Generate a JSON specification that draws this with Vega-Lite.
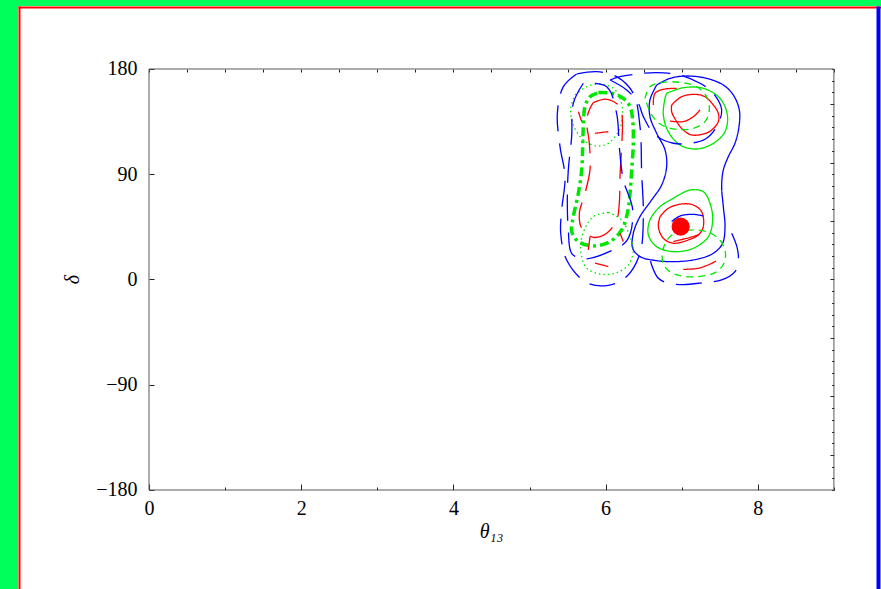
{
  "$schema": "https://vega.github.io/schema/vega-lite/v6.json",
  "width": 863,
  "height": 583,
  "autosize": {"type": "none"},
  "padding": {"left": 18, "top": 6, "right": 0, "bottom": 0},
  "background": "#00ff5a",
  "config": {
    "view": {"fill": "white", "stroke": null},
    "axis": {
      "labelFont": "Liberation Serif",
      "titleFont": "Liberation Serif",
      "labelFontSize": 20,
      "titleFontSize": 20,
      "labelColor": "#000000",
      "titleColor": "#000000",
      "tickColor": "#222222",
      "titleFontWeight": "normal",
      "grid": false,
      "domain": false,
      "labelFlush": false,
      "labelOverlap": false
    }
  },
  "datasets": {
    "series": [
      {"id": "A", "col": "blue", "dash": "solid"},
      {"id": "B", "col": "green", "dash": "solid"},
      {"id": "C", "col": "red", "dash": "solid"},
      {"id": "D", "col": "red", "dash": "solid"},
      {"id": "E", "col": "green", "dash": "solid"},
      {"id": "F", "col": "green", "dash": "shortdash"},
      {"id": "G", "col": "green", "dash": "shortdash"},
      {"id": "H", "col": "green", "dash": "dashdot"},
      {"id": "I", "col": "green", "dash": "dot"},
      {"id": "J", "col": "green", "dash": "dot"},
      {"id": "K", "col": "red", "dash": "longdash"},
      {"id": "L1", "col": "blue", "dash": "longdash"},
      {"id": "L2", "col": "blue", "dash": "longdash"},
      {"id": "M", "col": "blue", "dash": "longdash"},
      {"id": "N", "col": "blue", "dash": "longdash"},
      {"id": "P", "col": "blue", "dash": "solid"},
      {"id": "Q1", "col": "red", "dash": "solid"},
      {"id": "Q2", "col": "red", "dash": "solid"},
      {"id": "Q3", "col": "red", "dash": "solid"},
      {"id": "Q4", "col": "red", "dash": "solid"},
      {"id": "Q5", "col": "red", "dash": "solid"},
      {"id": "Q6", "col": "red", "dash": "solid"},
      {"id": "Q7", "col": "red", "dash": "solid"},
      {"id": "Q8", "col": "red", "dash": "solid"},
      {"id": "Q9", "col": "red", "dash": "solid"}
    ],
    "best": [{"x": 6.986, "y": 45.2}],
    "pts": [
      {"id": "A", "o": 0, "x": 6.671, "y": 166.3},
      {"id": "A", "o": 1, "x": 6.846, "y": 172.0},
      {"id": "A", "o": 2, "x": 7.065, "y": 174.0},
      {"id": "A", "o": 3, "x": 7.328, "y": 172.0},
      {"id": "A", "o": 4, "x": 7.547, "y": 166.3},
      {"id": "A", "o": 5, "x": 7.678, "y": 157.8},
      {"id": "A", "o": 6, "x": 7.757, "y": 145.0},
      {"id": "A", "o": 7, "x": 7.753, "y": 130.7},
      {"id": "A", "o": 8, "x": 7.700, "y": 116.5},
      {"id": "A", "o": 9, "x": 7.613, "y": 105.1},
      {"id": "A", "o": 10, "x": 7.547, "y": 93.7},
      {"id": "A", "o": 11, "x": 7.525, "y": 79.4},
      {"id": "A", "o": 12, "x": 7.547, "y": 62.3},
      {"id": "A", "o": 13, "x": 7.569, "y": 45.2},
      {"id": "A", "o": 14, "x": 7.538, "y": 31.0},
      {"id": "A", "o": 15, "x": 7.416, "y": 22.4},
      {"id": "A", "o": 16, "x": 7.197, "y": 17.3},
      {"id": "A", "o": 17, "x": 6.934, "y": 15.3},
      {"id": "A", "o": 18, "x": 6.671, "y": 16.1},
      {"id": "A", "o": 19, "x": 6.452, "y": 19.6},
      {"id": "A", "o": 20, "x": 6.356, "y": 26.7},
      {"id": "A", "o": 21, "x": 6.364, "y": 39.5},
      {"id": "A", "o": 22, "x": 6.452, "y": 53.8},
      {"id": "A", "o": 23, "x": 6.605, "y": 68.0},
      {"id": "A", "o": 24, "x": 6.737, "y": 80.8},
      {"id": "A", "o": 25, "x": 6.802, "y": 96.5},
      {"id": "A", "o": 26, "x": 6.781, "y": 110.8},
      {"id": "A", "o": 27, "x": 6.671, "y": 125.0},
      {"id": "A", "o": 28, "x": 6.583, "y": 139.3},
      {"id": "A", "o": 29, "x": 6.583, "y": 153.5},
      {"id": "A", "o": 30, "x": 6.671, "y": 166.3},

      {"id": "B", "o": 0, "x": 6.802, "y": 159.2},
      {"id": "B", "o": 1, "x": 7.021, "y": 164.0},
      {"id": "B", "o": 2, "x": 7.284, "y": 163.5},
      {"id": "B", "o": 3, "x": 7.503, "y": 154.9},
      {"id": "B", "o": 4, "x": 7.600, "y": 140.7},
      {"id": "B", "o": 5, "x": 7.569, "y": 126.4},
      {"id": "B", "o": 6, "x": 7.416, "y": 116.4},
      {"id": "B", "o": 7, "x": 7.197, "y": 111.6},
      {"id": "B", "o": 8, "x": 6.978, "y": 115.0},
      {"id": "B", "o": 9, "x": 6.824, "y": 126.4},
      {"id": "B", "o": 10, "x": 6.759, "y": 140.7},
      {"id": "B", "o": 11, "x": 6.781, "y": 154.9},
      {"id": "B", "o": 12, "x": 6.802, "y": 159.2},

      {"id": "C", "o": 0, "x": 6.868, "y": 149.2},
      {"id": "C", "o": 1, "x": 6.999, "y": 156.3},
      {"id": "C", "o": 2, "x": 7.175, "y": 158.3},
      {"id": "C", "o": 3, "x": 7.306, "y": 156.3},
      {"id": "C", "o": 4, "x": 7.416, "y": 149.2},
      {"id": "C", "o": 5, "x": 7.481, "y": 142.1},
      {"id": "C", "o": 6, "x": 7.481, "y": 135.0},
      {"id": "C", "o": 7, "x": 7.394, "y": 127.8},
      {"id": "C", "o": 8, "x": 7.284, "y": 124.4},
      {"id": "C", "o": 9, "x": 7.131, "y": 123.6},
      {"id": "C", "o": 10, "x": 7.021, "y": 127.8},
      {"id": "C", "o": 11, "x": 6.934, "y": 135.0},
      {"id": "C", "o": 12, "x": 6.868, "y": 143.5},
      {"id": "C", "o": 13, "x": 6.868, "y": 149.2},

      {"id": "D", "o": 0, "x": 6.715, "y": 53.7},
      {"id": "D", "o": 1, "x": 6.824, "y": 60.9},
      {"id": "D", "o": 2, "x": 6.999, "y": 64.6},
      {"id": "D", "o": 3, "x": 7.153, "y": 63.7},
      {"id": "D", "o": 4, "x": 7.262, "y": 58.0},
      {"id": "D", "o": 5, "x": 7.284, "y": 45.2},
      {"id": "D", "o": 6, "x": 7.219, "y": 38.1},
      {"id": "D", "o": 7, "x": 7.087, "y": 33.8},
      {"id": "D", "o": 8, "x": 6.890, "y": 31.0},
      {"id": "D", "o": 9, "x": 6.759, "y": 35.2},
      {"id": "D", "o": 10, "x": 6.693, "y": 45.2},
      {"id": "D", "o": 11, "x": 6.715, "y": 53.7},

      {"id": "E", "o": 0, "x": 6.890, "y": 69.4},
      {"id": "E", "o": 1, "x": 7.109, "y": 76.5},
      {"id": "E", "o": 2, "x": 7.284, "y": 75.1},
      {"id": "E", "o": 3, "x": 7.372, "y": 65.1},
      {"id": "E", "o": 4, "x": 7.407, "y": 50.9},
      {"id": "E", "o": 5, "x": 7.350, "y": 36.6},
      {"id": "E", "o": 6, "x": 7.153, "y": 26.7},
      {"id": "E", "o": 7, "x": 6.890, "y": 23.8},
      {"id": "E", "o": 8, "x": 6.671, "y": 28.1},
      {"id": "E", "o": 9, "x": 6.562, "y": 38.1},
      {"id": "E", "o": 10, "x": 6.583, "y": 50.9},
      {"id": "E", "o": 11, "x": 6.715, "y": 62.3},
      {"id": "E", "o": 12, "x": 6.890, "y": 69.4},

      {"id": "F", "o": 0, "x": 6.518, "y": 154.9},
      {"id": "F", "o": 1, "x": 6.583, "y": 164.9},
      {"id": "F", "o": 2, "x": 6.759, "y": 168.6},
      {"id": "F", "o": 3, "x": 6.978, "y": 168.6},
      {"id": "F", "o": 4, "x": 7.197, "y": 164.9},
      {"id": "F", "o": 5, "x": 7.328, "y": 156.3},
      {"id": "F", "o": 6, "x": 7.363, "y": 145.0},
      {"id": "F", "o": 7, "x": 7.306, "y": 135.0},
      {"id": "F", "o": 8, "x": 7.153, "y": 129.3},
      {"id": "F", "o": 9, "x": 6.934, "y": 128.4},
      {"id": "F", "o": 10, "x": 6.737, "y": 132.1},
      {"id": "F", "o": 11, "x": 6.605, "y": 140.7},
      {"id": "F", "o": 12, "x": 6.518, "y": 154.9},

      {"id": "G", "o": 0, "x": 6.912, "y": 40.0},
      {"id": "G", "o": 1, "x": 7.109, "y": 42.3},
      {"id": "G", "o": 2, "x": 7.328, "y": 40.9},
      {"id": "G", "o": 3, "x": 7.481, "y": 35.2},
      {"id": "G", "o": 4, "x": 7.569, "y": 25.2},
      {"id": "G", "o": 5, "x": 7.556, "y": 13.8},
      {"id": "G", "o": 6, "x": 7.438, "y": 5.9},
      {"id": "G", "o": 7, "x": 7.197, "y": 2.4},
      {"id": "G", "o": 8, "x": 6.978, "y": 3.3},
      {"id": "G", "o": 9, "x": 6.824, "y": 7.6},
      {"id": "G", "o": 10, "x": 6.750, "y": 15.3},
      {"id": "G", "o": 11, "x": 6.759, "y": 26.7},
      {"id": "G", "o": 12, "x": 6.824, "y": 35.2},
      {"id": "G", "o": 13, "x": 6.912, "y": 40.0},

      {"id": "H", "o": 0, "x": 5.905, "y": 159.8},
      {"id": "H", "o": 1, "x": 6.080, "y": 159.2},
      {"id": "H", "o": 2, "x": 6.233, "y": 154.9},
      {"id": "H", "o": 3, "x": 6.321, "y": 147.8},
      {"id": "H", "o": 4, "x": 6.356, "y": 136.4},
      {"id": "H", "o": 5, "x": 6.364, "y": 116.4},
      {"id": "H", "o": 6, "x": 6.343, "y": 93.7},
      {"id": "H", "o": 7, "x": 6.321, "y": 73.7},
      {"id": "H", "o": 8, "x": 6.286, "y": 56.6},
      {"id": "H", "o": 9, "x": 6.211, "y": 42.3},
      {"id": "H", "o": 10, "x": 6.058, "y": 32.4},
      {"id": "H", "o": 11, "x": 5.839, "y": 28.7},
      {"id": "H", "o": 12, "x": 5.642, "y": 32.4},
      {"id": "H", "o": 13, "x": 5.554, "y": 40.9},
      {"id": "H", "o": 14, "x": 5.576, "y": 53.7},
      {"id": "H", "o": 15, "x": 5.642, "y": 73.7},
      {"id": "H", "o": 16, "x": 5.686, "y": 93.7},
      {"id": "H", "o": 17, "x": 5.699, "y": 113.6},
      {"id": "H", "o": 18, "x": 5.707, "y": 130.7},
      {"id": "H", "o": 19, "x": 5.729, "y": 147.8},
      {"id": "H", "o": 20, "x": 5.795, "y": 156.3},
      {"id": "H", "o": 21, "x": 5.905, "y": 159.8},

      {"id": "I", "o": 0, "x": 5.598, "y": 157.8},
      {"id": "I", "o": 1, "x": 5.751, "y": 164.9},
      {"id": "I", "o": 2, "x": 5.926, "y": 167.2},
      {"id": "I", "o": 3, "x": 6.101, "y": 163.5},
      {"id": "I", "o": 4, "x": 6.189, "y": 154.9},
      {"id": "I", "o": 5, "x": 6.224, "y": 140.7},
      {"id": "I", "o": 6, "x": 6.167, "y": 126.4},
      {"id": "I", "o": 7, "x": 6.036, "y": 116.4},
      {"id": "I", "o": 8, "x": 5.882, "y": 114.2},
      {"id": "I", "o": 9, "x": 5.707, "y": 119.3},
      {"id": "I", "o": 10, "x": 5.576, "y": 132.1},
      {"id": "I", "o": 11, "x": 5.541, "y": 146.4},
      {"id": "I", "o": 12, "x": 5.598, "y": 157.8},

      {"id": "J", "o": 0, "x": 6.036, "y": 57.4},
      {"id": "J", "o": 1, "x": 6.211, "y": 50.9},
      {"id": "J", "o": 2, "x": 6.320, "y": 36.6},
      {"id": "J", "o": 3, "x": 6.364, "y": 25.2},
      {"id": "J", "o": 4, "x": 6.298, "y": 12.4},
      {"id": "J", "o": 5, "x": 6.123, "y": 5.3},
      {"id": "J", "o": 6, "x": 5.926, "y": 4.7},
      {"id": "J", "o": 7, "x": 5.751, "y": 9.6},
      {"id": "J", "o": 8, "x": 5.685, "y": 19.5},
      {"id": "J", "o": 9, "x": 5.672, "y": 30.9},
      {"id": "J", "o": 10, "x": 5.729, "y": 43.7},
      {"id": "J", "o": 11, "x": 5.838, "y": 53.7},
      {"id": "J", "o": 12, "x": 6.036, "y": 57.4},

      {"id": "K", "o": 0, "x": 5.839, "y": 151.2},
      {"id": "K", "o": 1, "x": 6.014, "y": 154.1},
      {"id": "K", "o": 2, "x": 6.189, "y": 147.8},
      {"id": "K", "o": 3, "x": 6.220, "y": 136.4},
      {"id": "K", "o": 4, "x": 6.211, "y": 113.6},
      {"id": "K", "o": 5, "x": 6.189, "y": 88.0},
      {"id": "K", "o": 6, "x": 6.180, "y": 65.2},
      {"id": "K", "o": 7, "x": 6.145, "y": 50.9},
      {"id": "K", "o": 8, "x": 6.014, "y": 39.5},
      {"id": "K", "o": 9, "x": 5.839, "y": 36.1},
      {"id": "K", "o": 10, "x": 5.686, "y": 43.8},
      {"id": "K", "o": 11, "x": 5.655, "y": 56.6},
      {"id": "K", "o": 12, "x": 5.729, "y": 73.7},
      {"id": "K", "o": 13, "x": 5.795, "y": 93.7},
      {"id": "K", "o": 14, "x": 5.786, "y": 116.5},
      {"id": "K", "o": 15, "x": 5.751, "y": 136.4},
      {"id": "K", "o": 16, "x": 5.795, "y": 146.4},
      {"id": "K", "o": 17, "x": 5.839, "y": 151.2},

      {"id": "L1", "o": 0, "x": 5.620, "y": 175.7},
      {"id": "L1", "o": 1, "x": 5.445, "y": 164.9},
      {"id": "L1", "o": 2, "x": 5.366, "y": 142.1},
      {"id": "L1", "o": 3, "x": 5.401, "y": 113.6},
      {"id": "L1", "o": 4, "x": 5.467, "y": 88.0},
      {"id": "L1", "o": 5, "x": 5.423, "y": 59.5},
      {"id": "L1", "o": 6, "x": 5.410, "y": 39.5},
      {"id": "L1", "o": 7, "x": 5.488, "y": 16.7},
      {"id": "L1", "o": 8, "x": 5.751, "y": -2.7},
      {"id": "L1", "o": 9, "x": 6.036, "y": -5.0},
      {"id": "L1", "o": 10, "x": 6.277, "y": 2.5},
      {"id": "L1", "o": 11, "x": 6.452, "y": 22.4},
      {"id": "L1", "o": 12, "x": 6.496, "y": 53.8},
      {"id": "L1", "o": 13, "x": 6.474, "y": 90.8},
      {"id": "L1", "o": 14, "x": 6.452, "y": 130.7},
      {"id": "L1", "o": 15, "x": 6.364, "y": 159.2},
      {"id": "L1", "o": 16, "x": 6.145, "y": 173.5},
      {"id": "L1", "o": 17, "x": 5.883, "y": 177.7},
      {"id": "L1", "o": 18, "x": 5.620, "y": 175.7},

      {"id": "L2", "o": 0, "x": 5.707, "y": 167.8},
      {"id": "L2", "o": 1, "x": 5.576, "y": 150.7},
      {"id": "L2", "o": 2, "x": 5.554, "y": 122.2},
      {"id": "L2", "o": 3, "x": 5.510, "y": 93.7},
      {"id": "L2", "o": 4, "x": 5.497, "y": 68.0},
      {"id": "L2", "o": 5, "x": 5.510, "y": 42.4},
      {"id": "L2", "o": 6, "x": 5.554, "y": 22.4},
      {"id": "L2", "o": 7, "x": 5.707, "y": 17.6},
      {"id": "L2", "o": 8, "x": 6.080, "y": 24.7},
      {"id": "L2", "o": 9, "x": 6.286, "y": 33.8},
      {"id": "L2", "o": 10, "x": 6.356, "y": 59.5},
      {"id": "L2", "o": 11, "x": 6.233, "y": 85.1},
      {"id": "L2", "o": 12, "x": 6.180, "y": 113.6},
      {"id": "L2", "o": 13, "x": 6.145, "y": 142.1},
      {"id": "L2", "o": 14, "x": 6.014, "y": 164.9},
      {"id": "L2", "o": 15, "x": 5.707, "y": 167.8},

      {"id": "M", "o": 0, "x": 6.058, "y": 170.6},
      {"id": "M", "o": 1, "x": 6.277, "y": 162.1},
      {"id": "M", "o": 2, "x": 6.430, "y": 150.7},
      {"id": "M", "o": 3, "x": 6.496, "y": 139.3},
      {"id": "M", "o": 4, "x": 6.649, "y": 123.6},
      {"id": "M", "o": 5, "x": 6.890, "y": 116.5},
      {"id": "M", "o": 6, "x": 7.109, "y": 116.5},
      {"id": "M", "o": 7, "x": 7.306, "y": 119.9},
      {"id": "M", "o": 8, "x": 7.459, "y": 130.7},
      {"id": "M", "o": 9, "x": 7.525, "y": 145.0},
      {"id": "M", "o": 10, "x": 7.416, "y": 159.2},
      {"id": "M", "o": 11, "x": 7.240, "y": 167.8},
      {"id": "M", "o": 12, "x": 6.978, "y": 174.9},
      {"id": "M", "o": 13, "x": 6.671, "y": 176.9},
      {"id": "M", "o": 14, "x": 6.408, "y": 175.7},
      {"id": "M", "o": 15, "x": 6.189, "y": 173.5},
      {"id": "M", "o": 16, "x": 6.058, "y": 170.6},

      {"id": "N", "o": 0, "x": 7.657, "y": 39.5},
      {"id": "N", "o": 1, "x": 7.731, "y": 26.7},
      {"id": "N", "o": 2, "x": 7.744, "y": 16.7},
      {"id": "N", "o": 3, "x": 7.700, "y": 6.7},
      {"id": "N", "o": 4, "x": 7.525, "y": -0.4},
      {"id": "N", "o": 5, "x": 7.284, "y": -2.7},
      {"id": "N", "o": 6, "x": 7.021, "y": -4.4},
      {"id": "N", "o": 7, "x": 6.802, "y": -2.7},
      {"id": "N", "o": 8, "x": 6.693, "y": 1.0},
      {"id": "N", "o": 9, "x": 6.605, "y": 12.4},
      {"id": "N", "o": 10, "x": 6.562, "y": 25.3},

      {"id": "P", "o": 0, "x": 6.868, "y": 49.5},
      {"id": "P", "o": 1, "x": 6.978, "y": 54.3},
      {"id": "P", "o": 2, "x": 7.153, "y": 55.7},
      {"id": "P", "o": 3, "x": 7.284, "y": 54.3},

      {"id": "Q1", "o": 0, "x": 6.627, "y": 149.2},
      {"id": "Q1", "o": 1, "x": 6.649, "y": 159.2},
      {"id": "Q1", "o": 2, "x": 6.759, "y": 162.6},
      {"id": "Q1", "o": 3, "x": 6.934, "y": 163.5},
      {"id": "Q2", "o": 0, "x": 6.846, "y": 135.5},
      {"id": "Q2", "o": 1, "x": 7.021, "y": 135.0},
      {"id": "Q2", "o": 2, "x": 7.153, "y": 139.2},
      {"id": "Q2", "o": 3, "x": 7.240, "y": 145.0},
      {"id": "Q3", "o": 0, "x": 6.890, "y": 32.4},
      {"id": "Q3", "o": 1, "x": 7.065, "y": 35.2},
      {"id": "Q3", "o": 2, "x": 7.219, "y": 38.1},
      {"id": "Q4", "o": 0, "x": 7.021, "y": 8.7},
      {"id": "Q4", "o": 1, "x": 7.219, "y": 9.6},
      {"id": "Q4", "o": 2, "x": 7.394, "y": 13.8},
      {"id": "Q4", "o": 3, "x": 7.451, "y": 15.8},
      {"id": "Q5", "o": 0, "x": 5.861, "y": 125.0},
      {"id": "Q5", "o": 1, "x": 6.036, "y": 126.4},
      {"id": "Q6", "o": 0, "x": 5.861, "y": 13.9},
      {"id": "Q6", "o": 1, "x": 6.036, "y": 11.0},
      {"id": "Q7", "o": 0, "x": 5.642, "y": 143.5},
      {"id": "Q7", "o": 1, "x": 5.686, "y": 135.0},
      {"id": "Q8", "o": 0, "x": 5.795, "y": 36.7},
      {"id": "Q8", "o": 1, "x": 5.773, "y": 25.3},
      {"id": "Q9", "o": 0, "x": 6.189, "y": 39.5},
      {"id": "Q9", "o": 1, "x": 6.233, "y": 32.4}
    ]
  },
  "layer": [
    {
      "data": {"values": [{}]},
      "mark": {"type": "rect", "filled": false, "stroke": "#5a5a5a", "strokeWidth": 1},
      "encoding": {
        "x": {
          "datum": 0, "type": "quantitative",
          "scale": {"domain": [-1.7214, 9.6189], "nice": false, "zero": false},
          "axis": {"orient": "top", "offset": -63, "values": [0, 0.5, 1, 1.5, 2, 2.5, 3, 3.5, 4, 4.5, 5, 5.5, 6, 6.5, 7, 7.5, 8, 8.5, 9], "labels": false, "title": null, "tickSize": -3}
        },
        "x2": {"datum": 9},
        "y": {
          "datum": -180, "type": "quantitative",
          "scale": {"domain": [-264.66, 233.87], "nice": false, "zero": false},
          "axis": {"orient": "right", "offset": -47, "values": [-180, -170, -160, -150, -140, -130, -120, -110, -100, -90, -80, -70, -60, -50, -40, -30, -20, -10, 0, 10, 20, 30, 40, 50, 60, 70, 80, 90, 100, 110, 120, 130, 140, 150, 160, 170, 180], "labels": false, "title": null, "tickSize": {"condition": {"test": "datum.value % 50 === 0", "value": -4}, "value": -2.5}}
        },
        "y2": {"datum": 180}
      }
    },
    {
      "data": {"name": "pts"},
      "transform": [
        {"lookup": "id", "from": {"data": {"name": "series"}, "key": "id", "fields": ["col", "dash"]}}
      ],
      "mark": {"type": "line", "strokeCap": "butt", "strokeJoin": "round", "interpolate": "catmull-rom"},
      "encoding": {
        "x": {
          "field": "x", "type": "quantitative",
          "scale": {"domain": [-1.7214, 9.6189], "nice": false, "zero": false},
          "axis": {"orient": "bottom", "offset": -99, "values": [0, 0.5, 1, 1.5, 2, 2.5, 3, 3.5, 4, 4.5, 5, 5.5, 6, 6.5, 7, 7.5, 8, 8.5, 9], "format": "d", "labelExpr": "datum.value % 2 === 0 ? datum.label : ''", "tickSize": {"condition": {"test": "datum.value % 2 === 0", "value": -6}, "value": -3}, "labelPadding": 14, "title": "θ₁₃", "titleFontStyle": "italic", "titlePadding": 0, "titleX": 473}
        },
        "y": {
          "field": "y", "type": "quantitative",
          "scale": {"domain": [-264.66, 233.87], "nice": false, "zero": false},
          "axis": {"orient": "left", "offset": -131, "values": [-180, -90, 0, 90, 180], "tickSize": -5, "labelPadding": 17, "title": "δ", "titleFontStyle": "italic", "titlePadding": 13, "titleY": 273}
        },
        "detail": {"field": "id", "type": "nominal"},
        "order": {"field": "o", "type": "quantitative"},
        "color": {"field": "col", "type": "nominal", "scale": {"domain": ["blue", "red", "green"], "range": ["#0000ff", "#ff0000", "#00e600"]}, "legend": null},
        "strokeDash": {"field": "dash", "type": "nominal", "scale": {"domain": ["solid", "longdash", "shortdash", "dot", "dashdot"], "range": [[1, 0], [26, 12], [7, 5], [1.5, 3], [9, 4, 3, 4]]}, "legend": null},
        "strokeWidth": {"condition": {"test": "datum.dash === 'dashdot'", "value": 3.5}, "value": 1.3}
      }
    },
    {
      "data": {"name": "best"},
      "mark": {"type": "point", "filled": true, "color": "#ff0000", "size": 330, "opacity": 1},
      "encoding": {
        "x": {"field": "x", "type": "quantitative", "axis": {"orient": "top", "offset": -1, "domain": true, "domainColor": "#ff0000", "domainWidth": 2, "ticks": false, "labels": false, "title": null, "grid": false}},
        "y": {"field": "y", "type": "quantitative", "axis": {"orient": "right", "offset": -3, "domain": true, "domainColor": "#0000ff", "domainWidth": 4, "ticks": false, "labels": false, "title": null, "grid": false}}
      }
    },
    {
      "data": {"name": "best"},
      "mark": {"type": "point", "opacity": 0},
      "encoding": {
        "x": {"field": "x", "type": "quantitative", "axis": null},
        "y": {"field": "y", "type": "quantitative", "axis": {"orient": "left", "offset": -1, "domain": true, "domainColor": "#ff0000", "domainWidth": 2, "ticks": false, "labels": false, "title": null, "grid": false}}
      }
    }
  ],
  "resolve": {"axis": {"x": "independent", "y": "independent"}}
}
